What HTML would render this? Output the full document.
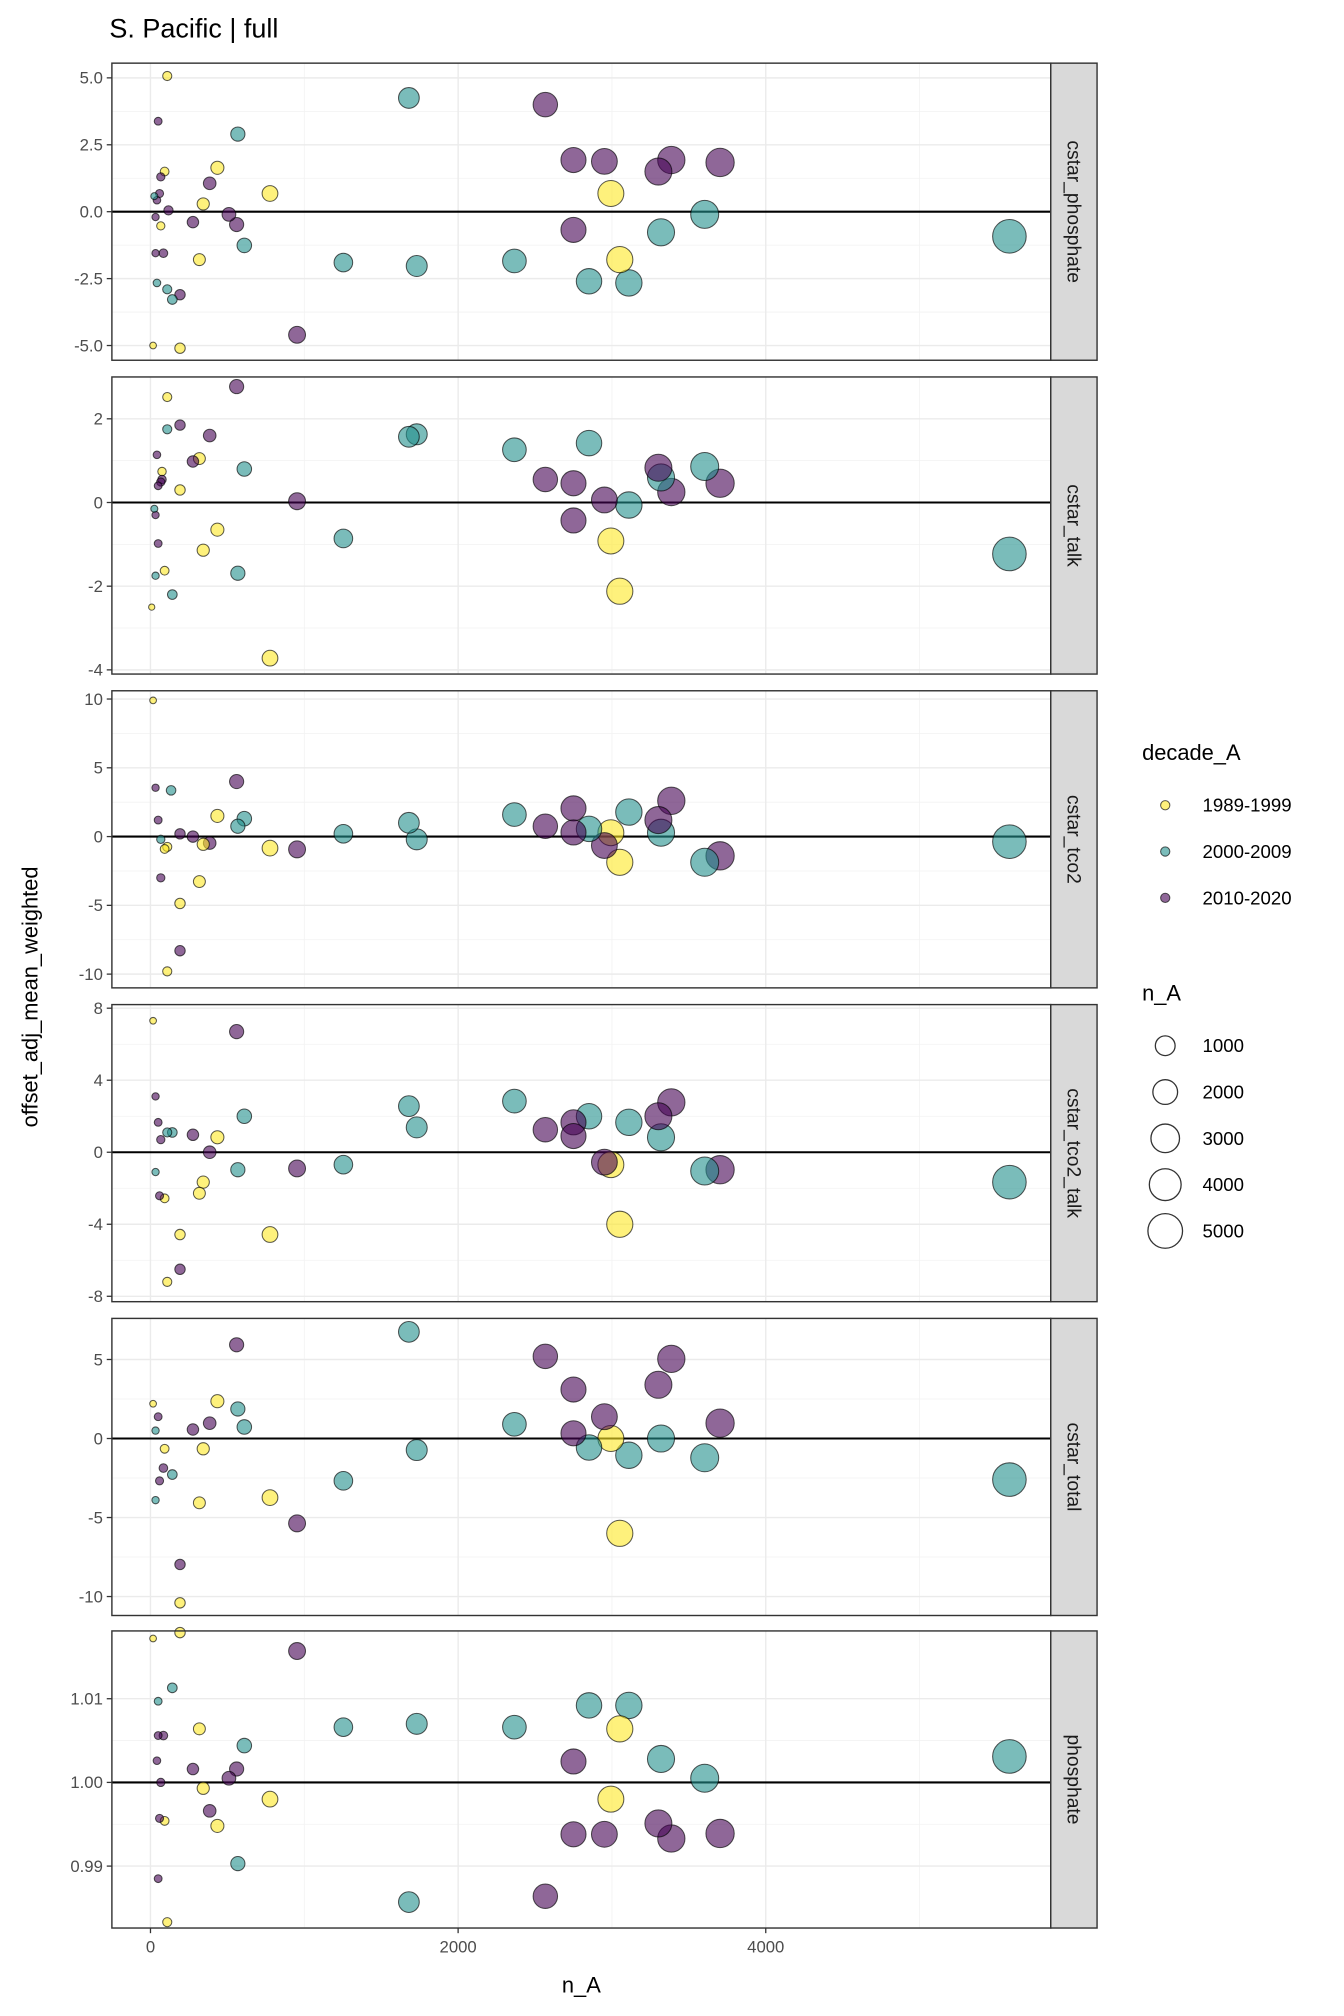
<!DOCTYPE html>
<html><head><meta charset="utf-8"><style>
html,body{margin:0;padding:0;background:#fff}
svg{display:block;font-family:"Liberation Sans",sans-serif}
</style></head><body>
<svg id="chart" width="1344" height="2016" viewBox="0 0 1045 1567.3" xmlns="http://www.w3.org/2000/svg"></svg>
<script>
const panelNames = ["cstar_phosphate","cstar_talk","cstar_tco2","cstar_tco2_talk","cstar_total","phosphate"];
const decades = ["1989-1999","2000-2009","2010-2020"];
const xTicks = [0,2000,4000];
const yTickSets = [[-5,-2.5,0,2.5,5],[-4,-2,0,2],[-10,-5,0,5,10],[-8,-4,0,4,8],[-10,-5,0,5],[0.99,1.00,1.01]];
const yTickLabels = [["-5.0","-2.5","0.0","2.5","5.0"],["-4","-2","0","2"],["-10","-5","0","5","10"],["-8","-4","0","4","8"],["-10","-5","0","5"],["0.99","1.00","1.01"]];
const sizeBreaks = [1000,2000,3000,4000,5000];
// [n_A, decade index, value]
const d1 = [[109,0,5.07],[92,0,1.5],[435,0,1.64],[777,0,0.68],[343,0,0.29],[2993,0,0.68],[67,0,-0.53],[318,0,-1.79],[3051,0,-1.79],[17,0,-5.0],[192,0,-5.1],
[1680,1,4.25],[568,1,2.9],[25,1,0.58],[610,1,-1.26],[1254,1,-1.9],[1731,1,-2.03],[2366,1,-1.84],[2851,1,-2.6],[3110,1,-2.66],[3319,1,-0.77],[3603,1,-0.1],[5584,1,-0.92],[42,1,-2.66],[109,1,-2.9],[142,1,-3.28],
[50,2,3.38],[2567,2,4.0],[2750,2,1.93],[2951,2,1.88],[3302,2,1.5],[3386,2,1.93],[3703,2,1.84],[2750,2,-0.68],[385,2,1.06],[67,2,1.3],[59,2,0.68],[42,2,0.43],[117,2,0.05],[510,2,-0.1],[560,2,-0.48],[276,2,-0.39],[33,2,-1.55],[84,2,-1.55],[192,2,-3.1],[953,2,-4.6],[33,2,-0.2]];
const d2 = [[109,0,2.52],[75,0,0.74],[318,0,1.05],[192,0,0.3],[435,0,-0.65],[343,0,-1.14],[92,0,-1.63],[8,0,-2.5],[777,0,-3.72],[2993,0,-0.92],[3051,0,-2.12],
[109,1,1.75],[1680,1,1.57],[1731,1,1.63],[2366,1,1.26],[2851,1,1.42],[3319,1,0.6],[3603,1,0.86],[3110,1,-0.06],[610,1,0.8],[568,1,-1.69],[142,1,-2.2],[33,1,-1.75],[1254,1,-0.86],[5584,1,-1.23],[25,1,-0.15],
[560,2,2.77],[192,2,1.85],[385,2,1.6],[276,2,0.98],[42,2,1.14],[67,2,0.49],[50,2,0.4],[75,2,0.55],[2567,2,0.55],[2750,2,0.46],[2951,2,0.06],[2750,2,-0.43],[3302,2,0.83],[3386,2,0.25],[3703,2,0.46],[953,2,0.03],[33,2,-0.3],[50,2,-0.98]];
const d3 = [[17,0,9.9],[435,0,1.5],[109,0,-0.75],[92,0,-0.9],[777,0,-0.84],[343,0,-0.56],[318,0,-3.27],[192,0,-4.86],[109,0,-9.8],[2993,0,0.28],[3051,0,-1.87],
[134,1,3.36],[610,1,1.3],[568,1,0.75],[1680,1,1.0],[1731,1,-0.2],[1254,1,0.2],[2366,1,1.6],[2851,1,0.56],[3110,1,1.78],[3319,1,0.28],[3603,1,-1.87],[5584,1,-0.37],[67,1,-0.2],
[33,2,3.55],[560,2,4.0],[50,2,1.2],[192,2,0.2],[276,2,0],[385,2,-0.47],[953,2,-0.93],[67,2,-3.0],[192,2,-8.3],[2567,2,0.75],[2750,2,2.05],[2750,2,0.3],[2951,2,-0.65],[3302,2,1.2],[3386,2,2.6],[3703,2,-1.4]];
const d4 = [[17,0,7.3],[435,0,0.83],[343,0,-1.66],[318,0,-2.28],[92,0,-2.56],[192,0,-4.57],[777,0,-4.57],[109,0,-7.2],[2993,0,-0.69],[3051,0,-4.0],
[610,1,2.0],[109,1,1.1],[142,1,1.1],[568,1,-0.97],[1254,1,-0.69],[1680,1,2.56],[1731,1,1.38],[2366,1,2.84],[2851,1,2.0],[3110,1,1.66],[3319,1,0.83],[3603,1,-1.04],[5584,1,-1.66],[33,1,-1.1],
[560,2,6.7],[33,2,3.1],[50,2,1.66],[67,2,0.7],[276,2,0.97],[385,2,0],[953,2,-0.9],[59,2,-2.42],[192,2,-6.5],[2567,2,1.25],[2750,2,1.66],[2750,2,0.9],[2951,2,-0.55],[3302,2,2.0],[3386,2,2.77],[3703,2,-0.97]];
const d5 = [[17,0,2.2],[435,0,2.36],[343,0,-0.65],[318,0,-4.07],[192,0,-10.4],[777,0,-3.74],[92,0,-0.65],[2993,0,0],[3051,0,-6.0],
[1680,1,6.75],[568,1,1.87],[610,1,0.73],[33,1,-3.9],[142,1,-2.28],[1731,1,-0.73],[1254,1,-2.68],[2366,1,0.9],[2851,1,-0.57],[3110,1,-1.06],[3319,1,0],[3603,1,-1.22],[5584,1,-2.6],[33,1,0.5],
[560,2,5.93],[50,2,1.38],[276,2,0.57],[385,2,0.97],[84,2,-1.87],[59,2,-2.68],[953,2,-5.37],[192,2,-7.97],[2567,2,5.2],[2750,2,3.1],[2951,2,1.38],[2750,2,0.33],[3302,2,3.4],[3386,2,5.04],[3703,2,0.97]];
const d6 = [[17,0,1.0172],[192,0,1.0179],[318,0,1.0064],[435,0,0.9948],[343,0,0.9993],[777,0,0.998],[92,0,0.9954],[109,0,0.9833],[3051,0,1.0064],[2993,0,0.998],
[142,1,1.0113],[50,1,1.0097],[610,1,1.0044],[568,1,0.9903],[1254,1,1.0066],[1731,1,1.007],[1680,1,0.9857],[2366,1,1.0066],[2851,1,1.0092],[3110,1,1.0092],[3319,1,1.0028],[3603,1,1.0005],[5584,1,1.0031],
[953,2,1.0157],[50,2,1.0056],[84,2,1.0056],[42,2,1.0026],[276,2,1.0016],[560,2,1.0016],[510,2,1.0005],[67,2,1.0],[385,2,0.9966],[59,2,0.9957],[50,2,0.9885],[2567,2,0.9864],[2750,2,1.0025],[2750,2,0.9938],[2951,2,0.9938],[3302,2,0.9951],[3386,2,0.9933],[3703,2,0.9939]];
const panelData = [d1,d2,d3,d4,d5,d6];
// y domains (value at panel top, value at panel bottom)
const yDomains = [[5.55,-5.55],[3.0,-4.1],[10.6,-11.0],[8.2,-8.3],[7.6,-11.2],[1.0181,0.9826]];

const NS="http://www.w3.org/2000/svg";
const svg=document.getElementById('chart');
function mk(tag,attrs,parent){const e=document.createElementNS(NS,tag);for(const k in attrs)e.setAttribute(k,attrs[k]);(parent||svg).appendChild(e);return e;}
const colors=["#FDE725","#21908C","#440154"];
const PX0=87,PX1=817,STRIP1=853;
const panelTops=[49,293,537,781,1025,1268],PH=231;
function xs(n){return 117+n*0.1196;}
function rs(n){return 2+0.148*Math.sqrt(n);}

let t=mk('text',{x:85,y:29,'font-size':21,fill:'#000'});t.textContent='S. Pacific | full';



panelNames.forEach((name,pi)=>{
  const top=panelTops[pi],bot=top+PH,dom=yDomains[pi];
  const ys=v=>top+(dom[0]-v)/(dom[0]-dom[1])*PH;
  const g=mk('g',{});
  
  
  mk('rect',{x:PX0,y:top,width:PX1-PX0,height:PH,fill:'#fff'},g);
  [1000,3000,5000].forEach(v=>mk('line',{x1:xs(v),x2:xs(v),y1:top,y2:bot,stroke:'#F2F2F2','stroke-width':0.6},g));
  const tk=yTickSets[pi];
  for(let i=0;i<tk.length-1;i++){const m=(tk[i]+tk[i+1])/2;mk('line',{x1:PX0,x2:PX1,y1:ys(m),y2:ys(m),stroke:'#F2F2F2','stroke-width':0.6},g);}
  xTicks.forEach(v=>mk('line',{x1:xs(v),x2:xs(v),y1:top,y2:bot,stroke:'#EBEBEB','stroke-width':1.1},g));
  tk.forEach((v,i)=>{
    const y=ys(v);
    mk('line',{x1:PX0,x2:PX1,y1:y,y2:y,stroke:'#EBEBEB','stroke-width':1.1},g);
    mk('line',{x1:PX0-4,x2:PX0,y1:y,y2:y,stroke:'#333','stroke-width':1},g);
    const l=mk('text',{x:PX0-7,y:y+4.5,'text-anchor':'end','font-size':13,fill:'#4D4D4D'},g);
    l.textContent=yTickLabels[pi][i];
    
    
  });
  mk('line',{x1:PX0,x2:PX1,y1:ys(pi==5?1:0),y2:ys(pi==5?1:0),stroke:'#000','stroke-width':1.6},g);
  const pts=panelData[pi].slice().sort((a,b)=>b[0]-a[0]);
  pts.forEach(p=>{
    const c=mk('circle',{cx:xs(p[0]),cy:ys(p[2]),r:rs(p[0]),fill:colors[p[1]],'fill-opacity':0.6,stroke:'#000','stroke-opacity':0.65,'stroke-width':0.8},g);
    
    
  });
  mk('rect',{x:PX0,y:top,width:PX1-PX0,height:PH,fill:'none',stroke:'#333','stroke-width':1.1},g);
  const s=mk('rect',{x:PX1,y:top,width:STRIP1-PX1,height:PH,fill:'#D9D9D9',stroke:'#333','stroke-width':1.1},g);
  
  
  const st=mk('text',{x:0,y:0,'font-size':15,fill:'#1A1A1A','text-anchor':'middle',transform:`translate(${(PX1+STRIP1)/2-5},${top+PH/2}) rotate(90)`},g);
  st.textContent=name;
  
  
});
const lastBot=panelTops[5]+PH;
xTicks.forEach(v=>{
  mk('line',{x1:xs(v),x2:xs(v),y1:lastBot,y2:lastBot+4,stroke:'#333'});
  const l=mk('text',{x:xs(v),y:lastBot+19,'text-anchor':'middle','font-size':13,fill:'#4D4D4D'});
  l.textContent=v;
  
  
});
let xt=mk('text',{x:452,y:1549,'text-anchor':'middle','font-size':17});xt.textContent='n_A';


let yt=mk('text',{x:0,y:0,'text-anchor':'middle','font-size':17,transform:'translate(29,775) rotate(-90)'});yt.textContent='offset_adj_mean_weighted';



let lt=mk('text',{x:888,y:591,'font-size':17});lt.textContent='decade_A';


decades.forEach((d,i)=>{
  const y=626+i*36;
  const c=mk('circle',{cx:906,cy:y,r:3.6,fill:colors[i],'fill-opacity':0.6,stroke:'#000','stroke-opacity':0.65,'stroke-width':0.8});
  
  
  const l=mk('text',{x:935,y:y+5,'font-size':14.5});l.textContent=d;
  
  
});
let lt2=mk('text',{x:888,y:778,'font-size':17});lt2.textContent='n_A';


sizeBreaks.forEach((b,i)=>{
  const y=813+i*36;
  const c=mk('circle',{cx:906,cy:y,r:rs(b)+1,fill:'none',stroke:'#333','stroke-width':1});
  
  
  const l=mk('text',{x:935,y:y+5,'font-size':14.5});l.textContent=b;
  
  
});
</script>
</body></html>
